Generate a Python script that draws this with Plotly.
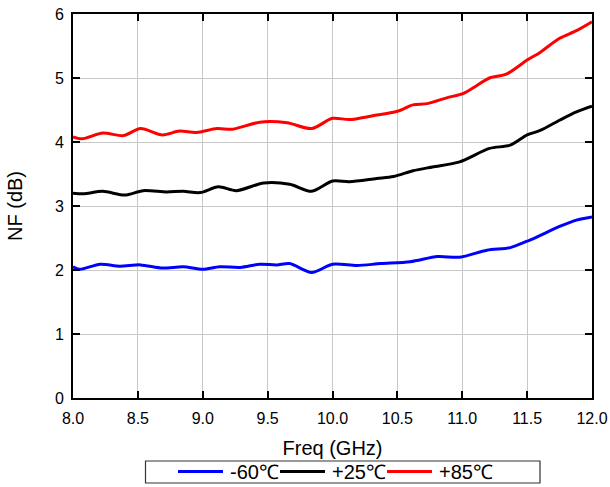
import plotly.graph_objects as go

# -60°C
freq_m60 = [8.00, 8.05, 8.21, 8.36, 8.52, 8.69, 8.85, 9.00, 9.13, 9.29, 9.44, 9.57, 9.67,
            9.84, 10.00, 10.19, 10.37, 10.60, 10.81, 10.98, 11.19, 11.37, 11.50, 11.55,
            11.75, 11.88, 12.00]
nf_m60 = [2.05, 2.01, 2.09, 2.06, 2.08, 2.03, 2.05, 2.01, 2.05, 2.04, 2.09, 2.08, 2.10,
          1.96, 2.09, 2.07, 2.10, 2.13, 2.21, 2.20, 2.31, 2.35, 2.45, 2.49,
          2.68, 2.78, 2.83]

# +25°C
freq_p25 = [8.00, 8.08, 8.23, 8.40, 8.54, 8.72, 8.85, 8.98, 9.12, 9.26, 9.47, 9.67, 9.84,
            10.00, 10.13, 10.34, 10.47, 10.62, 10.77, 10.98, 11.21, 11.37, 11.50, 11.60,
            11.75, 11.88, 12.00]
nf_p25 = [3.20, 3.19, 3.23, 3.17, 3.24, 3.22, 3.23, 3.21, 3.30, 3.24, 3.36, 3.34, 3.23,
          3.39, 3.38, 3.43, 3.46, 3.55, 3.61, 3.69, 3.90, 3.95, 4.11, 4.18,
          4.34, 4.47, 4.56]

# +85°C
freq_p85 = [8.00, 8.07, 8.23, 8.39, 8.52, 8.69, 8.82, 8.95, 9.11, 9.23, 9.44, 9.65, 9.84,
            10.00, 10.13, 10.31, 10.50, 10.62, 10.73, 10.88, 11.01, 11.11, 11.21, 11.34,
            11.50, 11.60, 11.75, 11.88, 12.00]
nf_p85 = [4.08, 4.05, 4.14, 4.10, 4.21, 4.11, 4.17, 4.15, 4.21, 4.20, 4.31, 4.30, 4.21,
          4.37, 4.35, 4.41, 4.48, 4.58, 4.60, 4.69, 4.76, 4.88, 5.00, 5.06,
          5.28, 5.40, 5.62, 5.74, 5.88]

x_ticks = [8.0, 8.5, 9.0, 9.5, 10.0, 10.5, 11.0, 11.5, 12.0]
x_tick_labels = ["8.0", "8.5", "9.0", "9.5", "10.0", "10.5", "11.0", "11.5", "12.0"]
y_ticks = [0, 1, 2, 3, 4, 5, 6]

series = [
    ("-60℃", freq_m60, nf_m60, "#0000ff"),
    ("+25℃", freq_p25, nf_p25, "#000000"),
    ("+85℃", freq_p85, nf_p85, "#ff0000"),
]

W, H = 610, 487
ML, MR, MT, MB = 73, 18, 14, 89
PW, PH = W - ML - MR, H - MT - MB


def px(x):
    return (x - ML) / PW


def py(y):
    return (H - MB - y) / PH


fig = go.Figure()
for name, xs, ys, color in series:
    fig.add_trace(go.Scatter(
        x=xs, y=ys, name=name, mode="lines",
        line=dict(color=color, width=3, shape="spline", smoothing=0.8),
        showlegend=False,
    ))

font_family = "Liberation Sans, Arial, sans-serif"

# legend drawn as a boxed row below the x-axis title
shapes = [dict(type="rect", xref="paper", yref="paper",
               x0=px(145.5), x1=px(540), y0=py(483), y1=py(461),
               line=dict(color="#333333", width=1.2), fillcolor="white")]
annotations = []
leg_y = 471.5
line_starts = [178, 280, 387]
for (name, _, _, color), x0 in zip(series, line_starts):
    shapes.append(dict(type="line", xref="paper", yref="paper",
                       x0=px(x0), x1=px(x0 + 45), y0=py(leg_y), y1=py(leg_y),
                       line=dict(color=color, width=3)))
    annotations.append(dict(xref="paper", yref="paper", x=px(x0 + 50), y=py(leg_y + 0.5),
                            xanchor="left", yanchor="middle", text=name, showarrow=False,
                            font=dict(size=20, family=font_family, color="#000000")))

fig.update_layout(
    width=W, height=H,
    margin=dict(l=ML, r=MR, t=MT, b=MB, autoexpand=False),
    paper_bgcolor="white", plot_bgcolor="white",
    font=dict(family=font_family, color="#000000"),
    showlegend=False,
    shapes=shapes, annotations=annotations,
)

fig.update_xaxes(
    range=[8, 12], tickvals=x_ticks, ticktext=x_tick_labels,
    showgrid=True, gridcolor="#c8c8c8", gridwidth=1,
    showline=True, linecolor="#000000", linewidth=2, mirror="ticks",
    ticks="inside", ticklen=7, tickwidth=1.5, tickcolor="#000000",
    tickfont=dict(size=16), zeroline=False, automargin=False, ticklabelstandoff=5,
    title=dict(text="Freq (GHz)", font=dict(size=20), standoff=15),
)
fig.update_yaxes(
    range=[0, 6], tickvals=y_ticks,
    showgrid=True, gridcolor="#c8c8c8", gridwidth=1,
    showline=True, linecolor="#000000", linewidth=2, mirror="ticks",
    ticks="inside", ticklen=7, tickwidth=1.5, tickcolor="#000000",
    tickfont=dict(size=16), zeroline=False, ticklabelstandoff=4, automargin=False,
    title=dict(text="NF (dB)", font=dict(size=20), standoff=27),
)

fig.write_html("out.html")
